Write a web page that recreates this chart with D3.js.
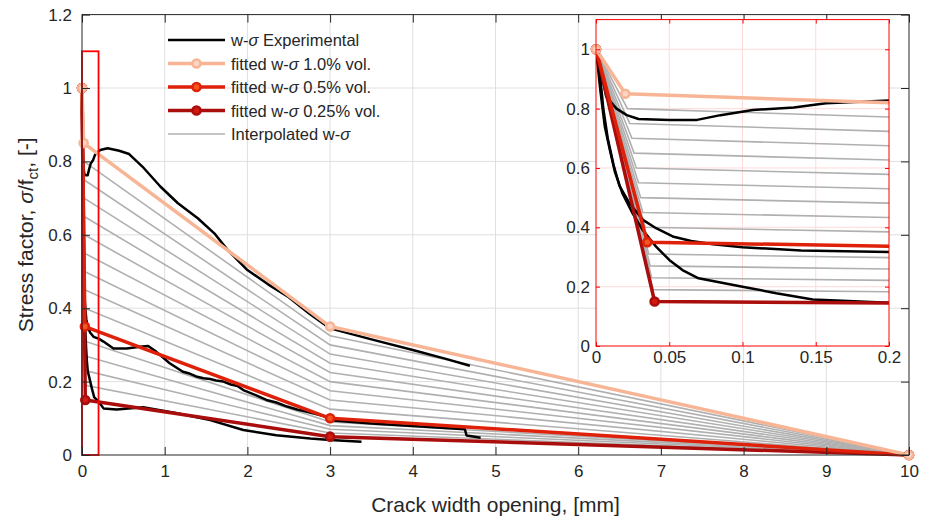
<!DOCTYPE html>
<meta charset="utf-8">
<script src="https://d3js.org/d3.v7.min.js"></script>
<style>
  body { margin: 0; background: #fff; }
  text { font-family: "Liberation Sans", Arial, sans-serif; fill: #262626; }
</style>
<div id="graph"></div>
<script>

// fitted w-sigma curves, [w in mm, sigma/fct]
var fit10 = [[0, 1], [0.02, 0.85], [3, 0.35], [10, 0]];
var fit05 = [[0, 1], [0.035, 0.35], [3, 0.1], [10, 0]];
var fit025 = [[0, 1], [0.04, 0.15], [3, 0.05], [10, 0]];

// interpolated curves: knee point and value at w = 3
var interpKneeW = [0.0215, 0.023, 0.0245, 0.026, 0.0275, 0.029, 0.0305, 0.032, 0.0335, 0.036, 0.037, 0.038, 0.039];
var interpKneeS = [0.80, 0.75, 0.70, 0.65, 0.60, 0.55, 0.50, 0.45, 0.40, 0.31, 0.27, 0.23, 0.19];
var interpS3 = [0.325, 0.30, 0.275, 0.25, 0.225, 0.20, 0.175, 0.15, 0.125, 0.09, 0.08, 0.07, 0.06];

// experimental curves
var exp10 = [[0, 1], [0.004, 0.91], [0.007, 0.84], [0.014, 0.80], [0.021, 0.778], [0.029, 0.765], [0.05, 0.762],
  [0.069, 0.762], [0.085, 0.778], [0.107, 0.795], [0.135, 0.804], [0.157, 0.818], [0.2, 0.827], [0.22, 0.831],
  [0.31, 0.836], [0.45, 0.829], [0.57, 0.82], [0.73, 0.786], [0.95, 0.731], [1.16, 0.686], [1.40, 0.645],
  [1.60, 0.604], [1.76, 0.559], [2.0, 0.504], [2.25, 0.465], [2.5, 0.43], [2.75, 0.385], [3.0, 0.345],
  [3.5, 0.315], [4.0, 0.286], [4.4, 0.262], [4.69, 0.243]];
var exp05 = [[0, 1], [0.003, 0.9], [0.005, 0.8], [0.008, 0.70], [0.012, 0.61], [0.016, 0.54], [0.023, 0.48],
  [0.032, 0.425], [0.041, 0.397], [0.053, 0.368], [0.065, 0.354], [0.08, 0.343], [0.1, 0.333], [0.14, 0.322],
  [0.2, 0.317], [0.26, 0.309], [0.38, 0.29], [0.54, 0.29], [0.70, 0.295], [0.80, 0.297], [0.90, 0.281],
  [1.06, 0.25], [1.22, 0.227], [1.30, 0.222], [1.38, 0.214], [1.47, 0.209], [1.55, 0.207], [1.62, 0.203],
  [1.71, 0.2], [1.80, 0.192], [1.88, 0.188], [1.95, 0.177], [2.10, 0.163], [2.23, 0.15], [2.35, 0.143],
  [2.48, 0.132], [2.6, 0.124], [2.72, 0.118], [2.96, 0.104], [3.0, 0.095], [3.5, 0.086], [4.0, 0.079],
  [4.63, 0.07], [4.65, 0.053], [4.82, 0.047]];
var exp025 = [[0, 1], [0.003, 0.86], [0.006, 0.74], [0.0095, 0.66], [0.013, 0.585], [0.018, 0.515],
  [0.025, 0.447], [0.032, 0.39], [0.041, 0.335], [0.05, 0.29], [0.059, 0.256], [0.07, 0.228], [0.1, 0.2],
  [0.123, 0.178], [0.148, 0.157], [0.2, 0.146], [0.26, 0.127], [0.42, 0.124], [0.74, 0.13], [1.15, 0.114],
  [1.55, 0.095], [1.95, 0.068], [2.35, 0.054], [2.76, 0.045], [3.0, 0.041], [3.38, 0.036]];

// ticks
var mainXTicks = [0, 1, 2, 3, 4, 5, 6, 7, 8, 9, 10];
var mainYTicks = [0, 0.2, 0.4, 0.6, 0.8, 1, 1.2];
var insetXTicks = [0, 0.05, 0.1, 0.15, 0.2];
var insetYTicks = [0, 0.2, 0.4, 0.6, 0.8, 1];

var legendNames = ["Experimental", "fitted w-σ 1.0% vol.", "fitted w-σ 0.5% vol.", "fitted w-σ 0.25% vol.", "Interpolated w-σ"];

// colours
var cExp = "#000000", cGrey = "#b0b0b0";
var c10 = "#f7b596", c10face = "#fcd6c4";
var c05 = "#df2109", c05face = "#f4561f";
var c025 = "#a90d0c", c025face = "#d2190f";

var fitted = [
  {pts: fit025, line: c025, face: c025face},
  {pts: fit05, line: c05, face: c05face},
  {pts: fit10, line: c10, face: c10face}
];

var svg = d3.select("#graph")
  .append("svg")
  .attr("width", 935)
  .attr("height", 520);

// main axes
var x = d3.scaleLinear().domain([0, 10]).range([82, 909]);
var y = d3.scaleLinear().domain([0, 1.2]).range([455, 14.6]);

function drawCurves(g, xs, ys, clipId) {
  var line = d3.line().x(d => xs(d[0])).y(d => ys(d[1]));
  var lines = g.append("g");
  if (clipId) lines.attr("clip-path", "url(#" + clipId + ")");

  interpKneeW.forEach(function (kw, i) {
    lines.append("path")
      .attr("d", line([[0, 1], [kw, interpKneeS[i]], [3, interpS3[i]], [10, 0]]))
      .attr("fill", "none").attr("stroke", cGrey).attr("stroke-width", 1.6);
  });

  [exp10, exp05, exp025].forEach(function (e) {
    lines.append("path").attr("d", line(e))
      .attr("fill", "none").attr("stroke", cExp).attr("stroke-width", 2.5)
      .attr("stroke-linejoin", "round");
  });

  fitted.forEach(function (f) {
    lines.append("path").attr("d", line(f.pts))
      .attr("fill", "none").attr("stroke", f.line).attr("stroke-width", 3.5)
      .attr("stroke-linejoin", "round");
  });
  return function () {
    var dom = xs.domain();
    fitted.forEach(function (f) {
      g.append("g").selectAll("circle")
        .data(f.pts.filter(d => d[0] <= dom[1]))
        .join("circle")
        .attr("cx", d => xs(d[0])).attr("cy", d => ys(d[1]))
        .attr("r", 4).attr("fill", f.face)
        .attr("stroke", f.line).attr("stroke-width", 2.6);
    });
  };
}

// grid lines
var grid = svg.append("g").attr("stroke", "#dfdfdf").attr("stroke-width", 1);
mainXTicks.slice(1, -1).forEach(function (t) {
  grid.append("line").attr("x1", x(t)).attr("x2", x(t)).attr("y1", y(0)).attr("y2", y(1.2));
});
mainYTicks.slice(1, -1).forEach(function (t) {
  grid.append("line").attr("x1", x(0)).attr("x2", x(10)).attr("y1", y(t)).attr("y2", y(t));
});

var mainG = svg.append("g");
var mainMarkers = drawCurves(mainG, x, y, null);

// zoom box
svg.append("rect")
  .attr("x", x(0)).attr("y", y(1.1))
  .attr("width", x(0.2) - x(0)).attr("height", y(0) - y(1.1))
  .attr("fill", "none").attr("stroke", "#ff0000").attr("stroke-width", 1.8);

mainMarkers();

// main axis frame & ticks
function styleAxis(g, col) {
  g.select(".domain").remove();
  g.selectAll(".tick line").attr("stroke", col);
  g.selectAll(".tick text").attr("fill", "#262626").style("font-size", "17px")
    .style("font-family", "'Liberation Sans', Arial, sans-serif");
}
svg.append("g").attr("transform", "translate(0," + y(0) + ")")
  .call(d3.axisBottom(x).tickValues(mainXTicks).tickSize(-8).tickPadding(10).tickFormat(d => String(d)))
  .call(g => styleAxis(g, "#262626"));
svg.append("g").attr("transform", "translate(0," + y(1.2) + ")")
  .call(d3.axisTop(x).tickValues(mainXTicks).tickSize(-8).tickFormat(""))
  .call(g => styleAxis(g, "#262626"));
svg.append("g").attr("transform", "translate(" + x(0) + ",0)")
  .call(d3.axisLeft(y).tickValues(mainYTicks).tickSize(-8).tickPadding(10).tickFormat(d => String(d)))
  .call(g => styleAxis(g, "#262626"));
svg.append("g").attr("transform", "translate(" + x(10) + ",0)")
  .call(d3.axisRight(y).tickValues(mainYTicks).tickSize(-8).tickFormat(""))
  .call(g => styleAxis(g, "#262626"));
svg.append("rect")
  .attr("x", x(0)).attr("y", y(1.2)).attr("width", x(10) - x(0)).attr("height", y(0) - y(1.2))
  .attr("fill", "none").attr("stroke", "#262626").attr("stroke-width", 1);

// axis titles
svg.append("text").attr("x", (x(0) + x(10)) / 2).attr("y", 512)
  .attr("text-anchor", "middle").style("font-size", "21px")
  .text("Crack width opening, [mm]");

var yl = svg.append("text").attr("transform", "translate(33," + (y(0) + y(1.2)) / 2 + ") rotate(-90)")
  .attr("text-anchor", "middle").style("font-size", "21px");
yl.append("tspan").text("Stress factor, ");
yl.append("tspan").style("font-style", "italic").text("σ");
yl.append("tspan").text("/f");
yl.append("tspan").attr("dy", 5).style("font-size", "15px").text("ct");
yl.append("tspan").attr("dy", -5).text(", [-]");

// legend
var legRows = [40, 63.5, 87, 110.5, 134];
var legStyles = [
  {line: cExp, face: null, w: 2.5},
  {line: c10, face: c10face, w: 3.5},
  {line: c05, face: c05face, w: 3.5},
  {line: c025, face: c025face, w: 3.5},
  {line: cGrey, face: null, w: 1.6}
];
var leg = svg.append("g");
legStyles.forEach(function (s, i) {
  leg.append("line").attr("x1", 168).attr("x2", 225).attr("y1", legRows[i]).attr("y2", legRows[i])
    .attr("stroke", s.line).attr("stroke-width", s.w);
  if (s.face) {
    leg.append("circle").attr("cx", 196.5).attr("cy", legRows[i]).attr("r", 4)
      .attr("fill", s.face).attr("stroke", s.line).attr("stroke-width", 2.6);
  }
  var t = leg.append("text").attr("x", 231).attr("y", legRows[i] + 6).style("font-size", "16.5px");
  var name = legendNames[i];
  if (i === 0) {
    t.append("tspan").text("w-");
    t.append("tspan").style("font-style", "italic").text("σ");
    t.append("tspan").text(" " + name);
  } else {
    var parts = name.split("σ");
    t.append("tspan").text(parts[0]);
    t.append("tspan").style("font-style", "italic").text("σ");
    t.append("tspan").text(parts[1]);
  }
});

// inset
var xi = d3.scaleLinear().domain([0, 0.2]).range([596, 889]);
var yi = d3.scaleLinear().domain([0, 1.1]).range([346, 19.6]);

svg.append("clipPath").attr("id", "insetClip")
  .append("rect").attr("x", xi(0)).attr("y", yi(1.1))
  .attr("width", xi(0.2) - xi(0)).attr("height", yi(0) - yi(1.1));

svg.append("rect").attr("x", xi(0)).attr("y", yi(1.1))
  .attr("width", xi(0.2) - xi(0)).attr("height", yi(0) - yi(1.1))
  .attr("fill", "#ffffff");

var igrid = svg.append("g").attr("stroke", "#ffdada").attr("stroke-width", 1);
insetXTicks.slice(1, -1).forEach(function (t) {
  igrid.append("line").attr("x1", xi(t)).attr("x2", xi(t)).attr("y1", yi(0)).attr("y2", yi(1.1));
});
insetYTicks.slice(1).forEach(function (t) {
  igrid.append("line").attr("x1", xi(0)).attr("x2", xi(0.2)).attr("y1", yi(t)).attr("y2", yi(t));
});

var insetG = svg.append("g");
var insetMarkers = drawCurves(insetG, xi, yi, "insetClip");

svg.append("g").attr("transform", "translate(0," + yi(0) + ")")
  .call(d3.axisBottom(xi).tickValues(insetXTicks).tickSize(-4).tickPadding(5).tickFormat(d => String(d)))
  .call(g => styleAxis(g, "#ff0000"));
svg.append("g").attr("transform", "translate(0," + yi(1.1) + ")")
  .call(d3.axisTop(xi).tickValues(insetXTicks).tickSize(-4).tickFormat(""))
  .call(g => styleAxis(g, "#ff0000"));
svg.append("g").attr("transform", "translate(" + xi(0) + ",0)")
  .call(d3.axisLeft(yi).tickValues(insetYTicks).tickSize(-4).tickPadding(6).tickFormat(d => String(d)))
  .call(g => styleAxis(g, "#ff0000"));
svg.append("g").attr("transform", "translate(" + xi(0.2) + ",0)")
  .call(d3.axisRight(yi).tickValues(insetYTicks).tickSize(-4).tickFormat(""))
  .call(g => styleAxis(g, "#ff0000"));
svg.append("rect").attr("x", xi(0)).attr("y", yi(1.1))
  .attr("width", xi(0.2) - xi(0)).attr("height", yi(0) - yi(1.1))
  .attr("fill", "none").attr("stroke", "#ff0000").attr("stroke-width", 1);

insetMarkers();

</script>
